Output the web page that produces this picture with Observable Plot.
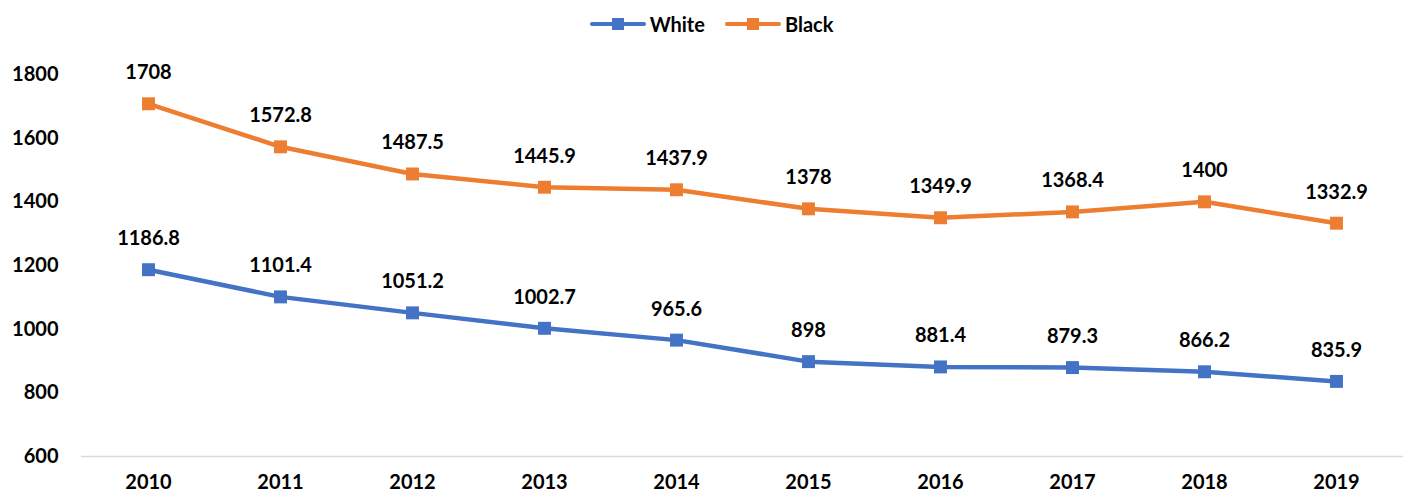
<!DOCTYPE html>
<html>
<head>
<meta charset="utf-8">
<script src="https://cdn.jsdelivr.net/npm/d3@7"></script>
<script src="https://cdn.jsdelivr.net/npm/@observablehq/plot@0.6"></script>
<style>
  html, body { margin: 0; padding: 0; background: #fff; }
  #wrap { position: relative; width: 1405px; height: 495px; font-family: Lato, "Open Sans", sans-serif; }
  #legend { position: absolute; top: 12px; left: 0; width: 1405px; display: flex; justify-content: center; gap: 20px; font-weight: 700; font-size: 20px; color: #000; padding-left: 18px; box-sizing: border-box; z-index: 2; }
  .item { display: flex; align-items: center; gap: 4px; }
  .sw { position: relative; width: 56px; height: 24px; }
  .sw .ln { position: absolute; left: 0; right: 0; top: 10px; height: 4px; border-radius: 2px; }
  .sw .mk { position: absolute; left: 22px; top: 6px; width: 12px; height: 12px; }
</style>
</head>
<body>
<div id="wrap"><div id="legend"></div></div>
<script>
const years = ["2010","2011","2012","2013","2014","2015","2016","2017","2018","2019"];
const white = [1186.8, 1101.4, 1051.2, 1002.7, 965.6, 898, 881.4, 879.3, 866.2, 835.9];
const black = [1708, 1572.8, 1487.5, 1445.9, 1437.9, 1378, 1349.9, 1368.4, 1400, 1332.9];
const seriesNames = ["White", "Black"];
const colors = ["#4472C4", "#ED7D31"];
const yTicks = [600, 800, 1000, 1200, 1400, 1600, 1800];

const seriesData = [white, black].map(vals => years.map((y, i) => ({year: y, value: vals[i]})));

const font = "Lato, 'Open Sans', sans-serif";
const seriesMarks = seriesData.flatMap((d, k) => [
  Plot.line(d, {x: "year", y: "value", stroke: colors[k], strokeWidth: 4.5}),
  Plot.dot(d, {x: "year", y: "value", fill: colors[k], symbol: "square", r: 7.3, stroke: null}),
  Plot.text(d, {x: "year", y: "value", text: r => String(r.value), dy: -31, fill: "#000", fontSize: 20, fontWeight: 700})
]);

const chart = Plot.plot({
  width: 1405,
  height: 495,
  marginTop: 74,
  marginBottom: 39,
  marginLeft: 81,
  marginRight: 2,
  style: {fontFamily: font, fontSize: "20px", fontWeight: 700, color: "#000", background: "transparent"},
  x: {type: "band", domain: years, padding: 0, label: null},
  y: {domain: [600, 1800], label: null},
  marks: [
    Plot.ruleY([600], {stroke: "#d9d9d9", strokeWidth: 1.5}),
    Plot.axisX({tickSize: 0, tickPadding: 18, fontSize: 20, fontWeight: 700}),
    Plot.axisY({ticks: yTicks, tickFormat: d3.format("d"), tickSize: 0, tickPadding: 23, fontSize: 20, fontWeight: 700}),
    ...seriesMarks
  ]
});
document.getElementById("wrap").prepend(chart);
chart.style.position = "absolute";
chart.style.left = "0";
chart.style.top = "0";

const legend = document.getElementById("legend");
seriesNames.forEach((name, i) => {
  const item = document.createElement("div");
  item.className = "item";
  item.innerHTML = `<div class="sw"><div class="ln" style="background:${colors[i]}"></div><div class="mk" style="background:${colors[i]}"></div></div><span>${name}</span>`;
  legend.appendChild(item);
});
</script>
</body>
</html>
